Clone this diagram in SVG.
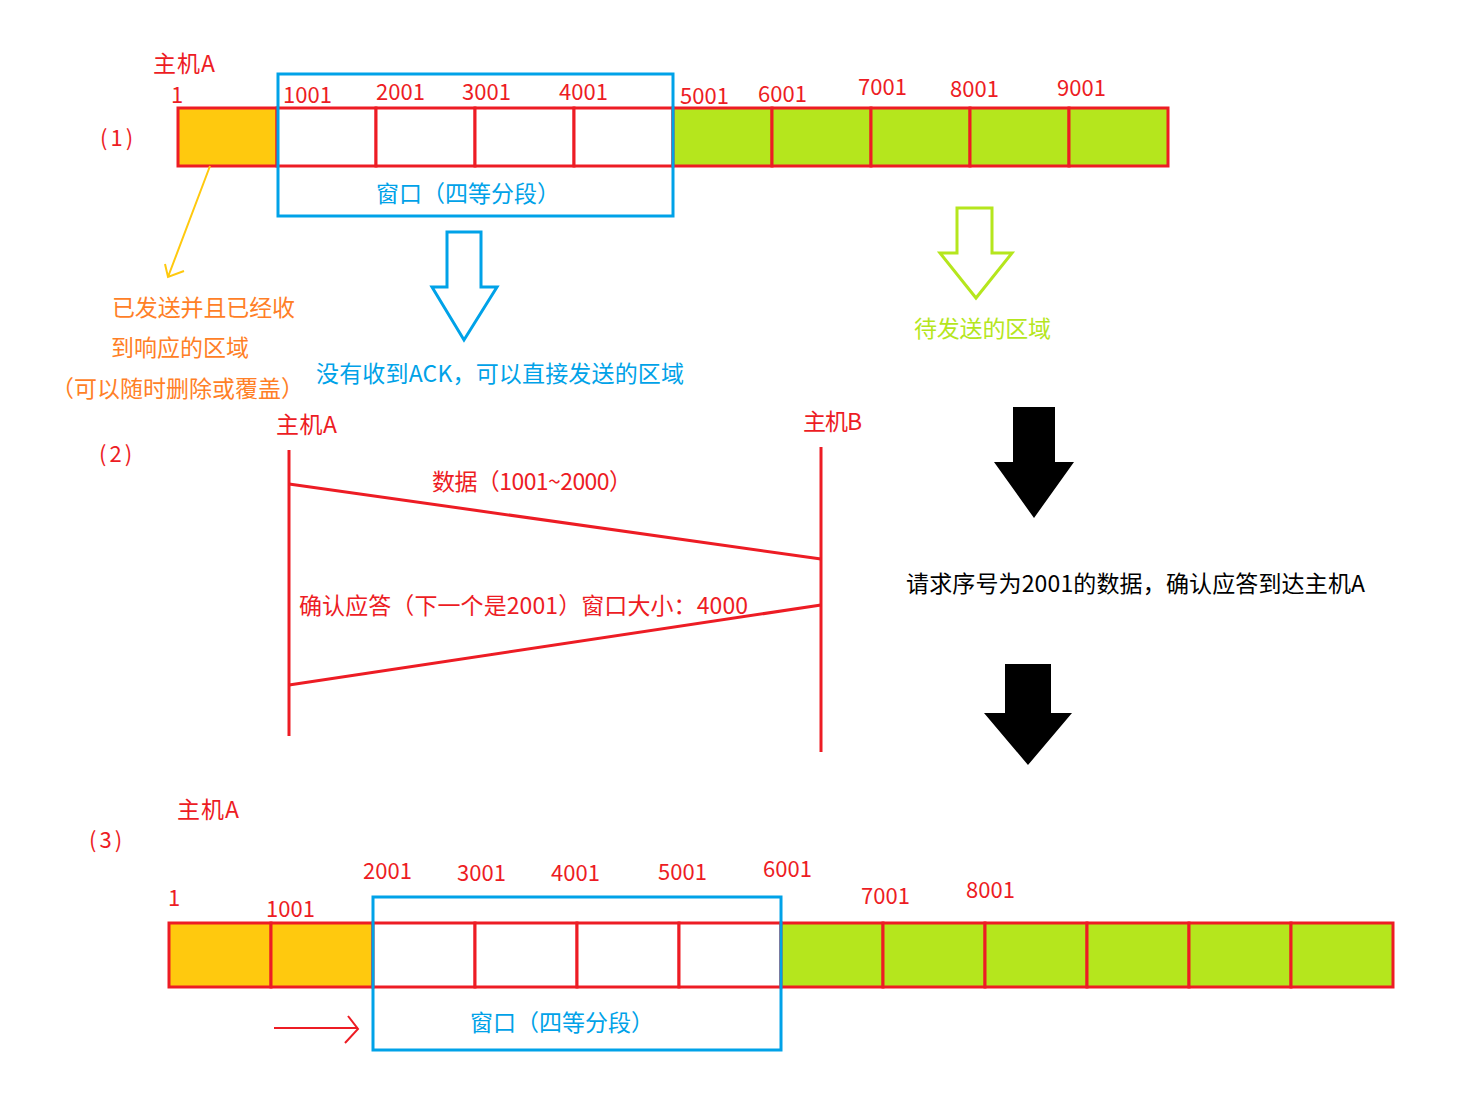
<svg xmlns="http://www.w3.org/2000/svg" width="1471" height="1102" viewBox="0 0 1471 1102">
<style>
text{font-family:"Microsoft YaHei","Noto Sans CJK SC","Noto Sans",sans-serif;font-size:22px}
.L{font-size:23px}
.r{fill:#ED1C24}.b{fill:#00A2E8}.g{fill:#B5E61D}.o{fill:#FF7F27}.k{fill:#000}
.cell{stroke:#ED1C24;stroke-width:3}
.win{fill:none;stroke:#00A2E8;stroke-width:3}
.ln{stroke:#ED1C24;stroke-width:3;fill:none}
</style>
<rect width="1471" height="1102" fill="#fff"/>

<g id="bar1">
<rect x="178" y="108" width="99" height="58" fill="#FFC90E" class="cell"/>
<rect x="277" y="108" width="99" height="58" fill="#fff" class="cell"/>
<rect x="376" y="108" width="99" height="58" fill="#fff" class="cell"/>
<rect x="475" y="108" width="99" height="58" fill="#fff" class="cell"/>
<rect x="574" y="108" width="99" height="58" fill="#fff" class="cell"/>
<rect x="673" y="108" width="99" height="58" fill="#B5E61D" class="cell"/>
<rect x="772" y="108" width="99" height="58" fill="#B5E61D" class="cell"/>
<rect x="871" y="108" width="99" height="58" fill="#B5E61D" class="cell"/>
<rect x="970" y="108" width="99" height="58" fill="#B5E61D" class="cell"/>
<rect x="1069" y="108" width="99" height="58" fill="#B5E61D" class="cell"/>
</g>
<g id="window1">
<rect x="278" y="74" width="395" height="142" class="win"/>
<text x="468" y="202" text-anchor="middle" class="b L">窗口（四等分段）</text>
</g>
<g id="labels1">
<text x="153" y="72" class="r L" textLength="62">主机A</text>
<text x="100" y="146" class="r" letter-spacing="3">(1)</text>
<text x="171" y="103" class="r">1</text>
<text x="283" y="103" class="r">1001</text>
<text x="376" y="100" class="r">2001</text>
<text x="462" y="100" class="r">3001</text>
<text x="559" y="100" class="r">4001</text>
<text x="680" y="104" class="r">5001</text>
<text x="758" y="102" class="r">6001</text>
<text x="858" y="95" class="r">7001</text>
<text x="950" y="97" class="r">8001</text>
<text x="1057" y="96" class="r">9001</text>
</g>
<g id="sentNote">
<text x="112" y="316" class="o L" textLength="183">已发送并且已经收</text>
<text x="111" y="356" class="o L" textLength="138">到响应的区域</text>
<text x="51" y="397" class="o L">（可以随时删除或覆盖）</text>
</g>
<g id="windowNote">
<path d="M447,232 H481 V287 H497 L464,340 L432,287 H447 Z" fill="none" stroke="#00A2E8" stroke-width="3"/>
<text x="316" y="382" class="b L" textLength="368">没有收到ACK，可以直接发送的区域</text>
</g>
<g id="pendingNote">
<path d="M957,208 H992 V253 H1012 L976,298 L940,253 H957 Z" fill="none" stroke="#B5E61D" stroke-width="3"/>
<text x="914" y="337" class="g L" textLength="137">待发送的区域</text>
</g>

<g id="hostA2">
<text x="276" y="433" class="r L" textLength="61">主机A</text>
<line x1="289" y1="450" x2="289" y2="736" class="ln"/>
</g>
<g id="hostB2">
<text x="803" y="430" class="r L" textLength="59">主机B</text>
<line x1="821" y1="447" x2="821" y2="752" class="ln"/>
</g>
<text x="99" y="462" class="r" letter-spacing="3">(2)</text>

<g id="connectors">
<path d="M210,166 L168,277 M165,264 L168,277 L184,271" fill="none" stroke="#FFC90E" stroke-width="2"/>
<line x1="289" y1="484" x2="821" y2="559" class="ln"/>
<line x1="821" y1="605" x2="289" y2="685" class="ln"/>
<path d="M274,1028 H358 M348,1016 L358,1029 L345,1043" fill="none" stroke="#ED1C24" stroke-width="2"/>
</g>
<text x="432" y="490" class="r L" textLength="200">数据（1001~2000）</text>
<text x="299" y="614" class="r L" textLength="449">确认应答（下一个是2001）窗口大小：4000</text>

<g id="arrow1">
<path d="M1013,407 H1055 V462 H1074 L1034,518 L994,462 H1013 Z" fill="#000"/>
</g>
<text x="906" y="592" class="k L" textLength="459">请求序号为2001的数据，确认应答到达主机A</text>
<g id="arrow2">
<path d="M1005,664 H1051 V713 H1072 L1028,765 L984,713 H1005 Z" fill="#000"/>
</g>

<g id="labels3">
<text x="177" y="818" class="r L" textLength="62">主机A</text>
<text x="89" y="848" class="r" letter-spacing="3">(3)</text>
<text x="168" y="906" class="r">1</text>
<text x="266" y="917" class="r">1001</text>
<text x="363" y="879" class="r">2001</text>
<text x="457" y="881" class="r">3001</text>
<text x="551" y="881" class="r">4001</text>
<text x="658" y="880" class="r">5001</text>
<text x="763" y="877" class="r">6001</text>
<text x="861" y="904" class="r">7001</text>
<text x="966" y="898" class="r">8001</text>
</g>
<g id="bar3">
<rect x="169" y="923" width="102" height="64" fill="#FFC90E" class="cell"/>
<rect x="271" y="923" width="102" height="64" fill="#FFC90E" class="cell"/>
<rect x="373" y="923" width="102" height="64" fill="#fff" class="cell"/>
<rect x="475" y="923" width="102" height="64" fill="#fff" class="cell"/>
<rect x="577" y="923" width="102" height="64" fill="#fff" class="cell"/>
<rect x="679" y="923" width="102" height="64" fill="#fff" class="cell"/>
<rect x="781" y="923" width="102" height="64" fill="#B5E61D" class="cell"/>
<rect x="883" y="923" width="102" height="64" fill="#B5E61D" class="cell"/>
<rect x="985" y="923" width="102" height="64" fill="#B5E61D" class="cell"/>
<rect x="1087" y="923" width="102" height="64" fill="#B5E61D" class="cell"/>
<rect x="1189" y="923" width="102" height="64" fill="#B5E61D" class="cell"/>
<rect x="1291" y="923" width="102" height="64" fill="#B5E61D" class="cell"/>
</g>
<g id="window3">
<rect x="373" y="897" width="408" height="153" class="win"/>
<text x="562" y="1031" text-anchor="middle" class="b L">窗口（四等分段）</text>
</g>
</svg>
